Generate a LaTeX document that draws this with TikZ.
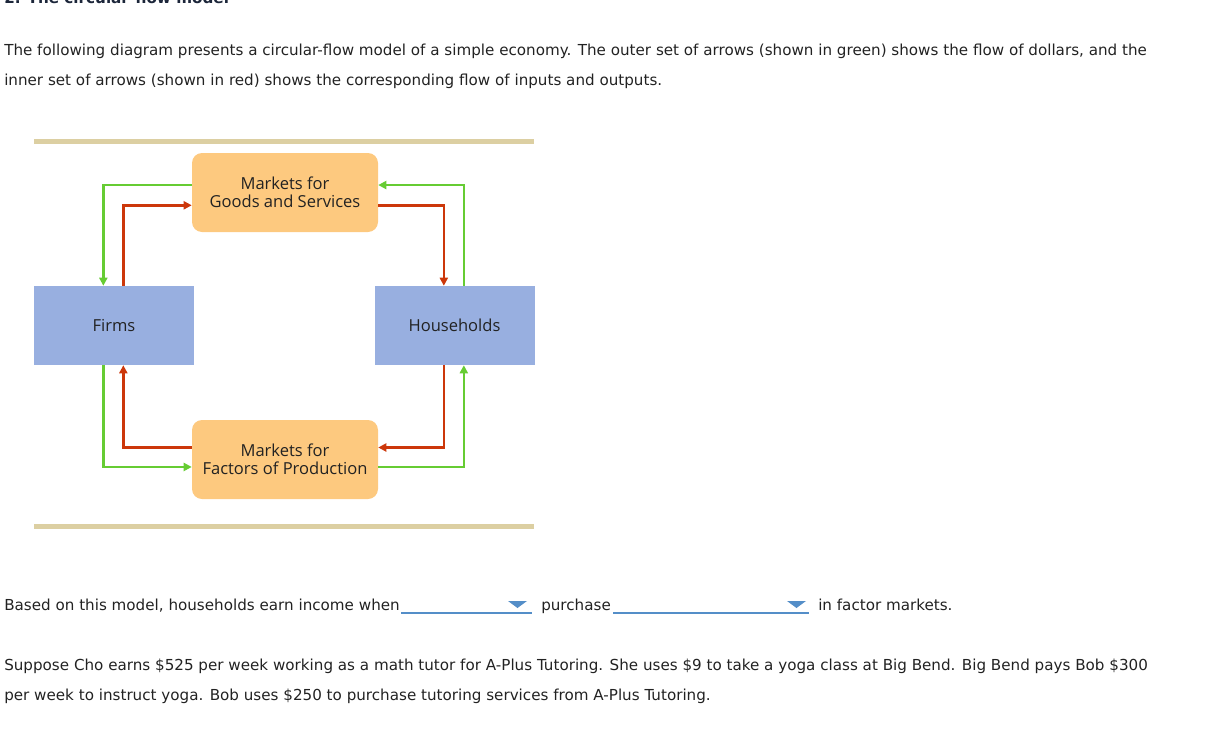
\documentclass[tikz,border=0pt]{standalone}
\usepackage{fontspec}
\setmainfont{DejaVu Sans}
\newfontfamily\boxfont{Open Sans}
\usetikzlibrary{arrows.meta}
\definecolor{txt}{RGB}{34,34,34}
\definecolor{ttl}{RGB}{28,38,58}
\definecolor{tanrule}{RGB}{220,207,162}
\definecolor{mktfill}{RGB}{253,201,127}
\definecolor{agentfill}{RGB}{152,175,224}
\definecolor{dollargreen}{RGB}{102,204,51}
\definecolor{realred}{RGB}{204,55,10}
\definecolor{pickblue}{RGB}{84,142,200}
\tikzset{
  para/.style={anchor=base west,inner sep=0pt,text=txt,font=\fontsize{11.36pt}{13.5pt}\selectfont},
  market/.style={fill=mktfill,rounded corners=7.5pt,minimum width=139.5pt,minimum height=59.25pt,inner sep=0pt,align=center,text=txt,font=\boxfont\fontsize{12.4pt}{13.6pt}\selectfont},
  sector/.style={fill=agentfill,minimum width=120pt,minimum height=59.25pt,inner sep=0pt,text=txt,font=\boxfont\fontsize{12.4pt}{13.6pt}\selectfont},
  dollar/.style={dollargreen,line width=2pt,-{Triangle[length=6pt,width=6pt]}},
  real/.style={realred,line width=2pt,-{Triangle[length=6pt,width=6pt]}},
  pick/.style={pickblue,line width=1pt}
}
\begin{document}
\begin{tikzpicture}[x=0.75pt,y=-0.75pt]
  \useasboundingbox (0,0) rectangle (1222,750); \clip (0,0) rectangle (1222,750);
  \node[para,text=ttl,font=\bfseries\fontsize{11.4pt}{14pt}\selectfont] (title) at (4,3) {2. The circular-flow model};
  \node[para] (intro1) at (4,55.5) {The following diagram presents a circular-flow model of a simple economy. The outer set of arrows (shown in green) shows the flow of dollars, and the};
  \node[para] (intro2) at (4,85.5) {inner set of arrows (shown in red) shows the corresponding flow of inputs and outputs.};
  \fill[tanrule] (34,139) rectangle (534,144); \fill[tanrule] (34,524) rectangle (534,529);
  \node[market] (goods) at (285,192.5) {Markets for\\Goods and Services};
  \node[market] (factors) at (285,459.5) {Markets for\\Factors of Production};
  \node[sector] (firms) at (114,325.5) {Firms};
  \node[sector] (households) at (454.5,325.5) {Households};
  \draw[dollar] ([yshift=5.6pt]goods.west) -| ([xshift=-8pt]firms.north);
  \draw[dollar] ([xshift=7pt]households.north) |- ([yshift=5.6pt]goods.east);
  \draw[dollar] ([xshift=-8pt]firms.south) |- ([yshift=-5.6pt]factors.west);
  \draw[dollar] ([yshift=-5.6pt]factors.east) -| ([xshift=7pt]households.south);
  \draw[real] ([xshift=7pt]firms.north) |- ([yshift=-9.6pt]goods.west);
  \draw[real] ([yshift=-9.6pt]goods.east) -| ([xshift=-8pt]households.north);
  \draw[real] ([xshift=-8pt]households.south) |- ([yshift=9pt]factors.east);
  \draw[real] ([yshift=9pt]factors.west) -| ([xshift=7pt]firms.south);
  \node[para] (ask1) at (4,610.5) {Based on this model, households earn income when};
  \coordinate (pickA) at (401,613); \coordinate (pickAend) at (532,613);
  \draw[pick] (pickA) -- (pickAend); \fill[pickblue] (508,601) -- (527,601) -- (517.5,608) -- cycle;
  \node[para] (ask2) at (541,610.5) {purchase};
  \coordinate (pickB) at (613,613); \coordinate (pickBend) at (809,613);
  \draw[pick] (pickB) -- (pickBend); \fill[pickblue] (787,601) -- (806,601) -- (796.5,608) -- cycle;
  \node[para] (ask3) at (818,610.5) {in factor markets.};
  \node[para] (case1) at (4,670.5) {Suppose Cho earns \$525 per week working as a math tutor for A-Plus Tutoring. She uses \$9 to take a yoga class at Big Bend. Big Bend pays Bob \$300};
  \node[para] (case2) at (4,700.5) {per week to instruct yoga. Bob uses \$250 to purchase tutoring services from A-Plus Tutoring.};
\end{tikzpicture}
\end{document}
